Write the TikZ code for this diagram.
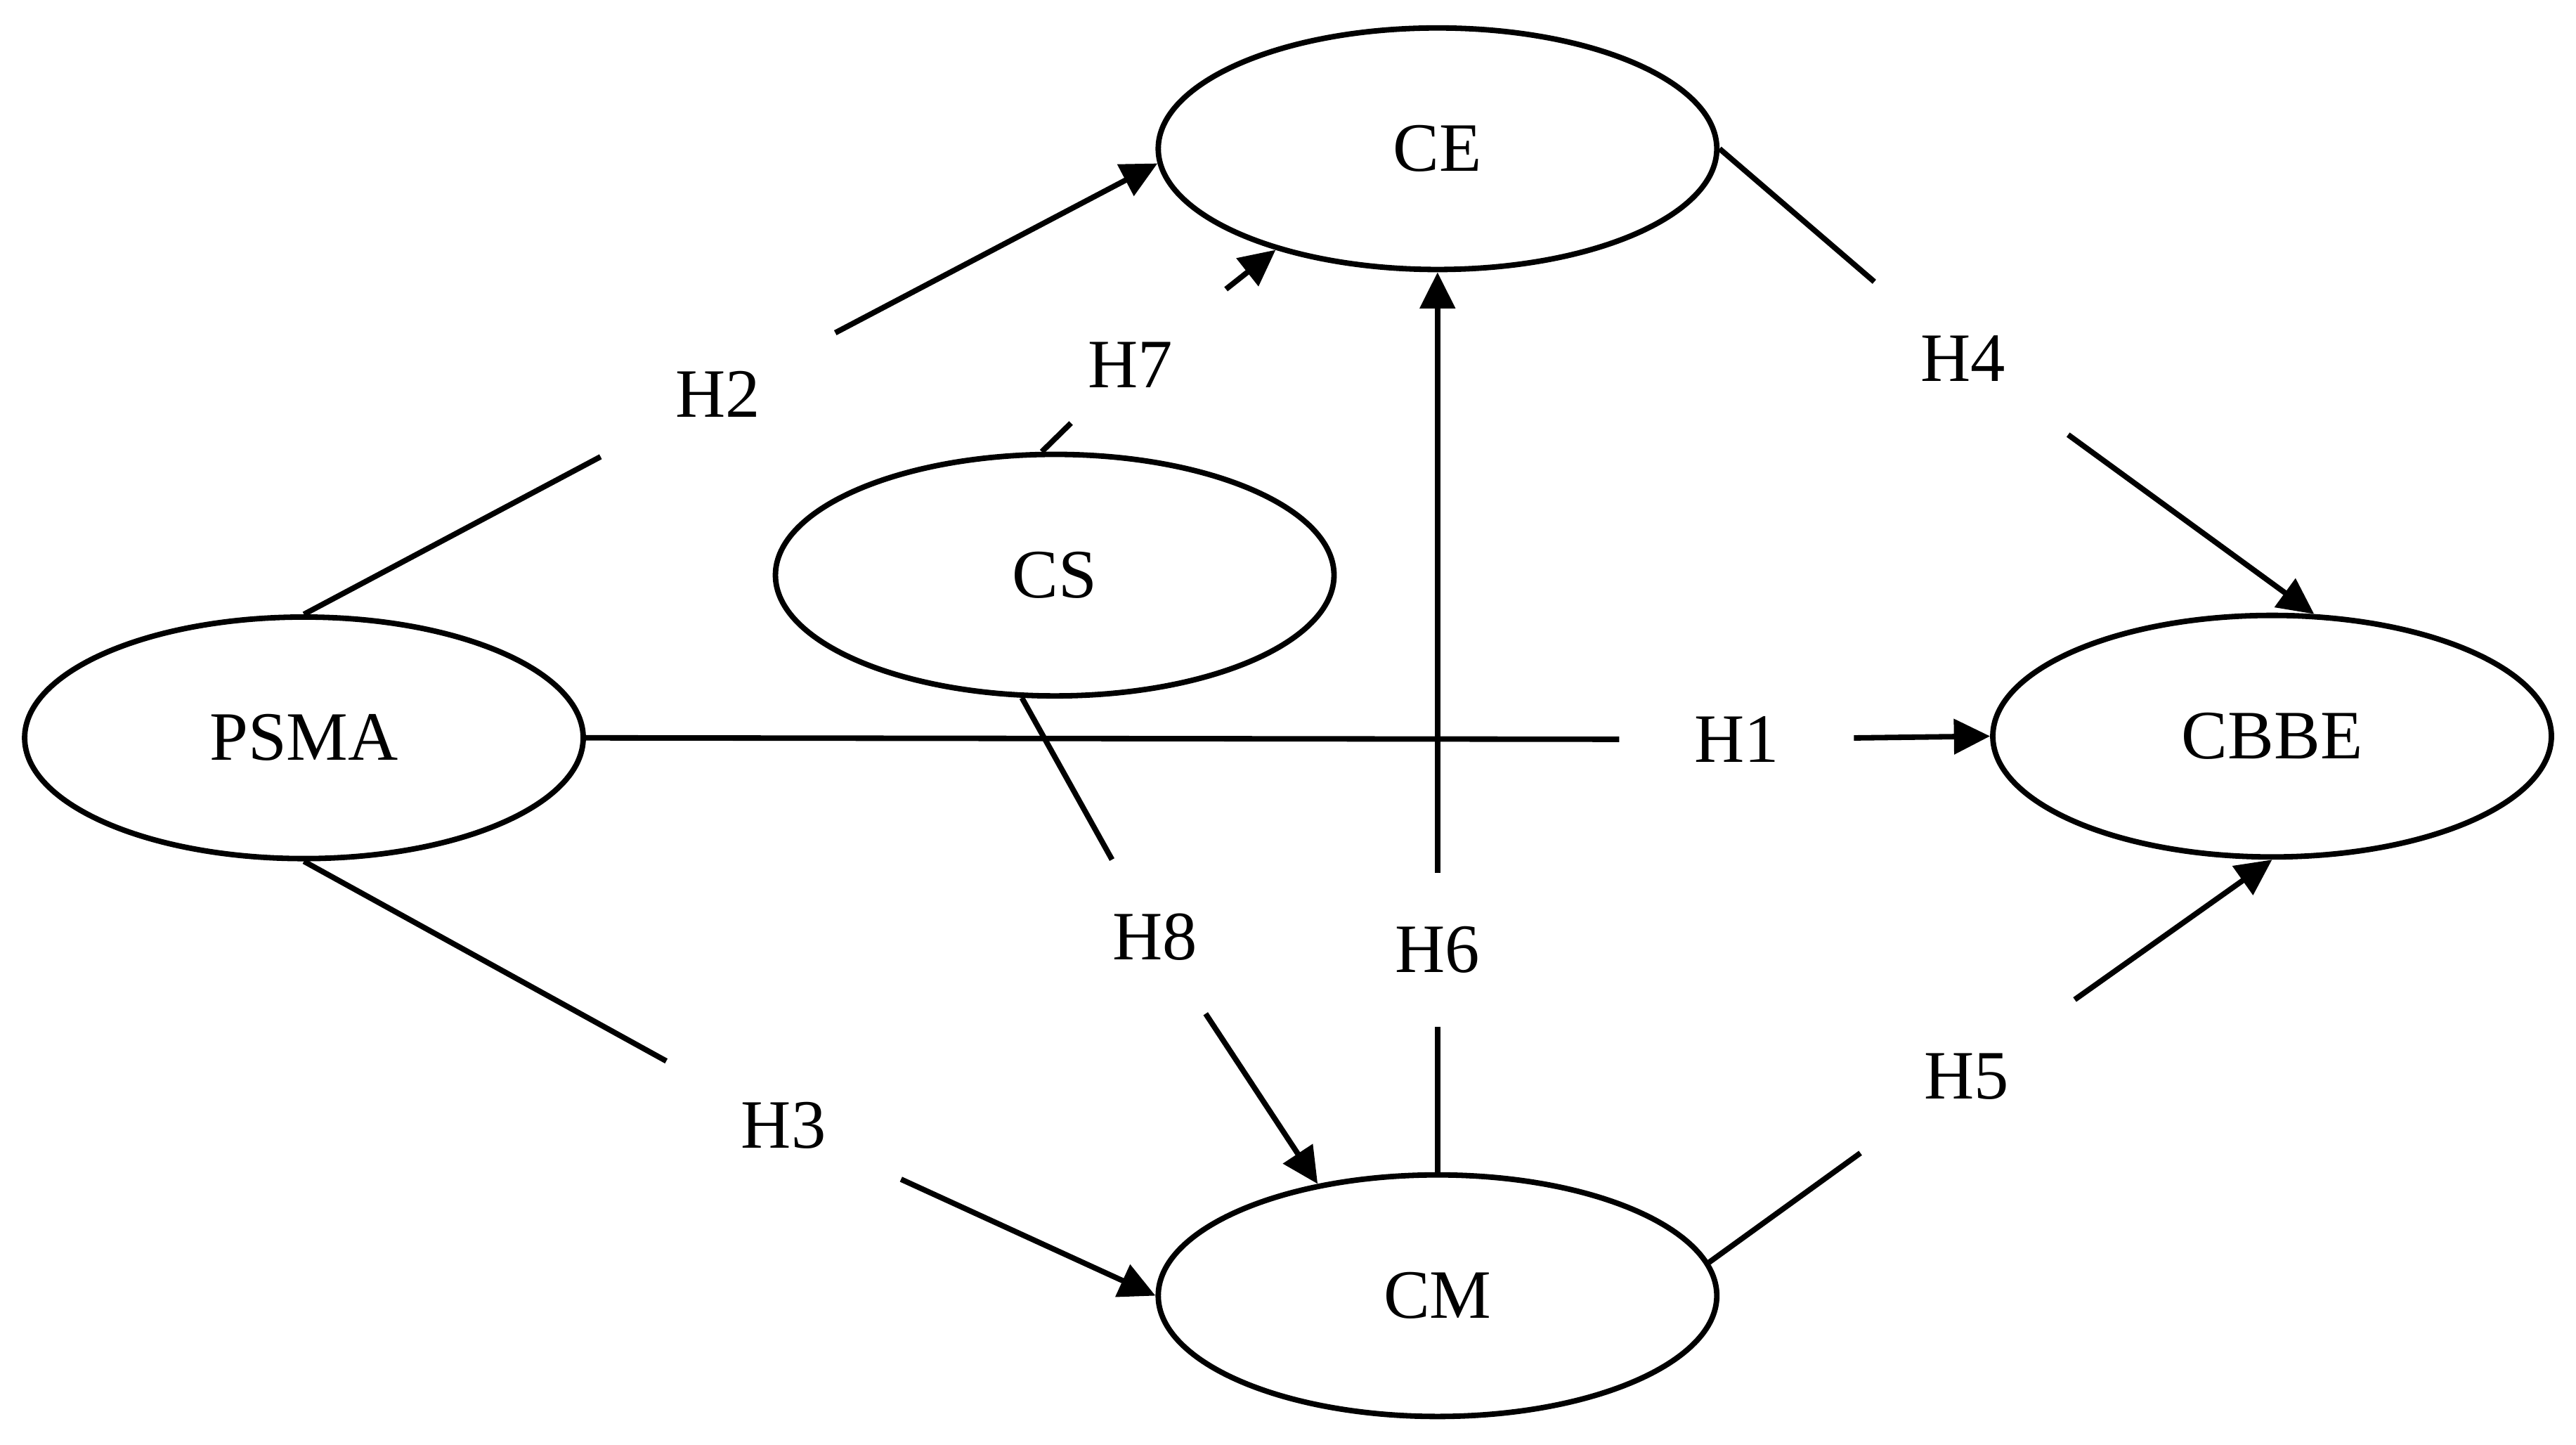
\documentclass[tikz,border=0pt]{standalone}
\usepackage{fontspec}
\setmainfont{Liberation Serif}
\usetikzlibrary{arrows.meta,shapes.geometric}

\begin{document}
\begin{tikzpicture}[font=\fontsize{12}{14}\selectfont, line width=0.95pt,
    construct/.style={draw, ellipse, minimum width=3.4cm, minimum height=1.47cm, inner sep=0pt},
    hyp/.style={inner xsep=0.44cm, inner ysep=0.31cm},
    link/.style={-{Triangle[length=2.2mm,width=2.1mm]}}]
    \useasboundingbox (0,0) rectangle (15.68,8.79);

    \node[construct] (PSMA) at (1.85,4.30) {PSMA};
    \node[construct] (CE) at (8.75,7.885) {CE};
    \node[construct] (CS) at (6.42,5.29) {CS};
    \node[construct] (CM) at (8.75,0.905) {CM};
    \node[construct] (CBBE) at (13.83,4.31) {CBBE};

    % hypothesis labels sit in the gaps of the paths
    \node[hyp] (h1) at (10.57,4.29) {H1};
    \node[hyp] (h2) at (4.37,6.39) {H2};
    \node[hyp] (h3) at (4.77,1.94) {H3};
    \node[hyp] (h4) at (11.95,6.61) {H4};
    \node[hyp] (h5) at (11.97,2.24) {H5};
    \node[hyp] (h6) at (8.75,3.01) {H6};
    \node[hyp, inner ysep=0.2cm] (h7) at (6.88,6.57) {H7};
    \node[hyp] (h8) at (7.03,3.09) {H8};

    \draw (PSMA.east) -- (h1);
    \draw[link] (h1) -- (CBBE.west);
    \draw (PSMA.north) -- (h2);
    \draw[link] (h2) -- (CE.183);
    \draw (PSMA.south) -- (h3);
    \draw[link] (h3) -- (CM.west);
    \draw (CE.east) -- (h4);
    \draw[link] (h4) -- (CBBE.71);
    \draw (CM.7) -- (h5);
    \draw[link] (h5) -- (CBBE.south);
    \draw (CM.north) -- (h6);
    \draw[link] (h6) -- (CE.south);
    \draw (CS.96) -- (h7);
    \draw[link, shorten <=0.17cm] (h7) -- (CE.212);
    \draw (CS.255) -- (h8);
    \draw[link] (h8) -- (CM.137);
\end{tikzpicture}
\end{document}
